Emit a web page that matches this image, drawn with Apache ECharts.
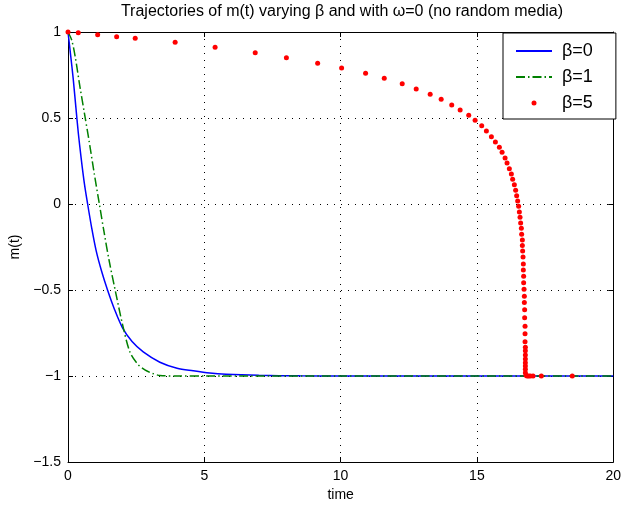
<!DOCTYPE html>
<html>
<head>
<meta charset="utf-8">
<script src="https://cdn.jsdelivr.net/npm/echarts@6/dist/echarts.min.js"></script>
<style>
html,body{margin:0;padding:0;background:#fff;}
#c{width:624px;height:509px;}
</style>
</head>
<body>
<div id="c"></div>
<script>
// ---- data ----
const seriesNames = ['\u03B2=0', '\u03B2=1', '\u03B2=5'];

const blueT = [0, 0.1, 0.19, 0.29, 0.38, 0.48, 0.6, 0.72, 0.87, 1.03, 1.23, 1.45, 1.7, 2.0, 2.35, 2.76, 3.37, 4.0, 4.59, 5.2, 5.8, 7.0, 8.5, 10, 15, 20];
const blueM = [1, 0.86, 0.73, 0.56, 0.41, 0.27, 0.12, 0.0, -0.14, -0.27, -0.39, -0.50, -0.61, -0.72, -0.80, -0.86, -0.92, -0.955, -0.97, -0.983, -0.99, -0.996, -0.999, -1, -1, -1];

const greenT = [0, 0.135, 0.26, 0.44, 0.6, 0.78, 0.96, 1.15, 1.33, 1.51, 1.73, 2.0, 2.27, 2.55, 2.82, 3.1, 3.37, 4.0, 5.0, 10, 20];
const greenM = [1, 0.953, 0.86, 0.68, 0.53, 0.36, 0.18, 0.0, -0.17, -0.33, -0.5, -0.70, -0.86, -0.93, -0.965, -0.985, -0.997, -1, -1, -1, -1];

const redT = [0, 0.377, 1.088, 1.784, 2.465, 3.930, 5.396, 6.868, 8.011, 9.158, 10.037, 10.916, 11.601, 12.260, 12.773, 13.286, 13.689, 14.077, 14.385, 14.700, 14.934, 15.176, 15.348, 15.531, 15.678, 15.824, 15.923, 16.033, 16.106, 16.190, 16.264, 16.311, 16.374, 16.421, 16.458, 16.495, 16.531, 16.557, 16.582, 16.604, 16.630, 16.641, 16.667, 16.667, 16.678, 16.692, 16.703, 16.703, 16.714, 16.714, 16.729, 16.740, 16.740, 16.751, 16.751, 16.766, 16.766, 16.766, 16.777, 16.777, 16.777, 16.777, 16.777, 16.777, 16.777, 16.777, 16.802, 16.839, 16.897, 16.960, 17.059, 17.363, 18.498];
const redM = [1, 0.996, 0.984, 0.973, 0.963, 0.940, 0.911, 0.880, 0.851, 0.818, 0.791, 0.760, 0.731, 0.699, 0.669, 0.638, 0.609, 0.576, 0.547, 0.516, 0.487, 0.455, 0.424, 0.391, 0.360, 0.330, 0.301, 0.267, 0.238, 0.205, 0.174, 0.144, 0.112, 0.080, 0.048, 0.017, -0.013, -0.047, -0.077, -0.110, -0.141, -0.176, -0.209, -0.242, -0.273, -0.308, -0.349, -0.384, -0.420, -0.458, -0.496, -0.537, -0.572, -0.615, -0.661, -0.711, -0.754, -0.801, -0.833, -0.853, -0.878, -0.901, -0.923, -0.942, -0.961, -0.981, -0.996, -1.0, -1.0, -1.0, -1.0, -1.0, -1.0];

const xRange = [0, 20, 5];
const yRange = [-1.5, 1, 0.5];
const titleText = 'Trajectories of m(t) varying \u03B2 and with \u03C9=0 (no random media)';
const xName = 'time';
const yName = 'm(t)';

// ---- build ----
function pairs(a, b) { return a.map((v, i) => [v, b[i]]); }
const fmt = v => (v < 0 ? '\u2212' + String(-v) : String(v));
const FONT = 'Liberation Sans, Arial, Helvetica, sans-serif';

const G = { left: 68, right: 9, top: 32, bottom: 47 };

const chart = echarts.init(document.getElementById('c'), null, { renderer: 'canvas' });

const tickCommon = { show: true, inside: true, length: 5, lineStyle: { color: '#000', width: 1 } };
const gridLine = { show: true, lineStyle: { color: '#000', type: [1, 6], width: 1 } };

chart.setOption({
  animation: false,
  backgroundColor: '#fff',
  grid: { left: G.left, right: G.right, top: G.top, bottom: G.bottom, show: false },
  graphic: [{
    type: 'text', x: 342, y: 12,
    style: { text: titleText, font: '16px ' + FONT, fill: '#000', textAlign: 'center', textVerticalAlign: 'middle' }
  }],
  xAxis: [{
    type: 'value', min: xRange[0], max: xRange[1], interval: xRange[2],
    position: 'bottom',
    axisLine: { show: true, onZero: false, lineStyle: { color: '#000', width: 1 } },
    axisTick: tickCommon,
    axisLabel: { color: '#000', fontSize: 14, fontFamily: FONT, margin: 7, formatter: fmt },
    splitLine: gridLine,
    name: xName, nameLocation: 'middle', nameGap: 25,
    nameTextStyle: { color: '#000', fontSize: 14, fontFamily: FONT }
  }, {
    type: 'value', min: xRange[0], max: xRange[1], interval: xRange[2],
    position: 'top',
    axisLine: { show: true, onZero: false, lineStyle: { color: '#000', width: 1 } },
    axisTick: tickCommon, axisLabel: { show: false }, splitLine: { show: false }
  }],
  yAxis: [{
    type: 'value', min: yRange[0], max: yRange[1], interval: yRange[2],
    position: 'left',
    axisLine: { show: true, onZero: false, lineStyle: { color: '#000', width: 1 } },
    axisTick: tickCommon,
    axisLabel: { color: '#000', fontSize: 14, fontFamily: FONT, margin: 7, formatter: fmt },
    splitLine: gridLine,
    name: yName, nameLocation: 'middle', nameGap: 37, nameRotate: 90,
    nameTextStyle: { color: '#000', fontSize: 14, fontFamily: FONT }
  }, {
    type: 'value', min: yRange[0], max: yRange[1], interval: yRange[2],
    position: 'right',
    axisLine: { show: true, onZero: false, lineStyle: { color: '#000', width: 1 } },
    axisTick: tickCommon, axisLabel: { show: false }, splitLine: { show: false }
  }],
  legend: {
    orient: 'vertical', left: 503, top: 33,
    backgroundColor: '#fff', borderColor: '#000', borderWidth: 1, borderRadius: 0,
    padding: [9, 23, 7, 12],
    itemWidth: 36, itemHeight: 5, itemGap: 8,
    textStyle: { color: '#000', fontSize: 18, fontFamily: FONT, padding: [0, 0, 0, 5] },
    data: [
      { name: seriesNames[0], itemStyle: { opacity: 0 } },
      { name: seriesNames[1], itemStyle: { opacity: 0 } },
      { name: seriesNames[2] }
    ]
  },
  series: [{
    name: seriesNames[0], type: 'line', data: pairs(blueT, blueM),
    symbol: 'none', smooth: 0.3,
    lineStyle: { color: '#0000ff', width: 1.5 }, itemStyle: { color: '#0000ff' }, z: 2
  }, {
    name: seriesNames[1], type: 'line', data: pairs(greenT, greenM),
    symbol: 'none', smooth: 0.3,
    lineStyle: { color: '#008000', width: 1.5, type: [9, 3, 1.5, 3] }, itemStyle: { color: '#008000' }, z: 3
  }, {
    name: seriesNames[2], type: 'scatter', data: pairs(redT, redM),
    symbol: 'circle', symbolSize: 5,
    itemStyle: { color: '#ff0000', opacity: 1 }, z: 4
  }]
});
</script>
</body>
</html>
